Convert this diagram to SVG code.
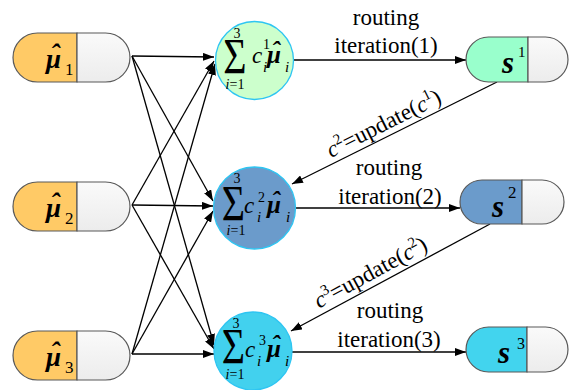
<svg xmlns="http://www.w3.org/2000/svg" width="574" height="390" viewBox="0 0 574 390">
<defs>
<linearGradient id="gw" x1="0" y1="0" x2="0" y2="1">
<stop offset="0" stop-color="#FAFAFA"/>
<stop offset="1" stop-color="#ECECEC"/>
</linearGradient>
<marker id="ah" markerUnits="userSpaceOnUse" markerWidth="11" markerHeight="8" refX="11" refY="4" orient="auto">
<path d="M0,0 L11,4 L0,8 z" fill="#000"/>
</marker>
<style>
text{font-family:'Liberation Serif','Times New Roman',serif;fill:#000}
.lb{font-size:23px}
.bi{font-weight:bold;font-style:italic}
.it{font-style:italic}
.rm{font-weight:normal;font-style:normal}
.pl{stroke:#595959;stroke-width:1.2}
.cr{stroke:#2EC5F2;stroke-width:1.3}
.cn line{stroke:#000;stroke-width:1.3;marker-end:url(#ah)}
</style>
</defs>

<g id="connectors" class="cn">
<line x1="132" y1="56" x2="214" y2="57"/>
<line x1="132" y1="56" x2="213" y2="201"/>
<line x1="132" y1="56" x2="214" y2="345"/>
<line x1="132" y1="205" x2="214" y2="61"/>
<line x1="132" y1="205" x2="213" y2="206"/>
<line x1="132" y1="205" x2="214" y2="349"/>
<line x1="132" y1="354" x2="215" y2="64"/>
<line x1="132" y1="354" x2="213" y2="211"/>
<line x1="132" y1="354" x2="214" y2="354"/>
<line x1="293" y1="60" x2="466" y2="60"/>
<line x1="296" y1="208" x2="460" y2="208"/>
<line x1="292" y1="352" x2="466" y2="352"/>
<line x1="497" y1="82" x2="292" y2="184"/>
<line x1="490" y1="224" x2="291" y2="331"/>
</g>

<g id="mu1">
<path class="pl" d="M77,33 H37.5 A24.5,24.5 0 0 0 37.5,82 H77 Z" fill="#FFCA66"/>
<path class="pl" d="M77,33 H105.5 A24.5,24.5 0 0 1 105.5,82 H77 Z" fill="url(#gw)"/>
<text class="bi" x="46" y="68" font-size="27">μ<tspan dx="-10.5" dy="-5">ˆ</tspan><tspan class="rm" x="65" y="75" font-size="17">1</tspan></text>
</g>
<g id="mu2">
<path class="pl" d="M77,182 H37.5 A24.5,24.5 0 0 0 37.5,231 H77 Z" fill="#FFCA66"/>
<path class="pl" d="M77,182 H105.5 A24.5,24.5 0 0 1 105.5,231 H77 Z" fill="url(#gw)"/>
<text class="bi" x="46" y="217" font-size="27">μ<tspan dx="-10.5" dy="-5">ˆ</tspan><tspan class="rm" x="65" y="224" font-size="17">2</tspan></text>
</g>
<g id="mu3">
<path class="pl" d="M77,331 H37.5 A24.5,24.5 0 0 0 37.5,380 H77 Z" fill="#FFCA66"/>
<path class="pl" d="M77,331 H105.5 A24.5,24.5 0 0 1 105.5,380 H77 Z" fill="url(#gw)"/>
<text class="bi" x="46" y="366" font-size="27">μ<tspan dx="-10.5" dy="-5">ˆ</tspan><tspan class="rm" x="65" y="373" font-size="17">3</tspan></text>
</g>

<g id="sum1">
<circle class="cr" cx="254.5" cy="60.5" r="39" fill="#CCFFCC"/>
<text transform="translate(235,73) scale(1,1.25)" font-size="40" text-anchor="middle">Σ</text>
<text x="237" y="38" font-size="14" text-anchor="middle">3</text>
<text x="235" y="89" font-size="14" text-anchor="middle"><tspan class="it">i</tspan>=1</text>
<text class="it" x="252" y="63" font-size="23">c<tspan class="rm" x="263" y="49" font-size="14">1</tspan><tspan x="263" y="72" font-size="15">i</tspan><tspan class="bi" x="267" y="63" font-size="25">μ</tspan><tspan class="bi" x="271.4" y="59" font-size="25">ˆ</tspan><tspan x="285" y="72" font-size="15">i</tspan></text>
</g>
<g id="sum2">
<circle class="cr" cx="254.5" cy="208" r="41" fill="#6B9BCB"/>
<text transform="translate(233.5,220) scale(1,1.25)" font-size="40" text-anchor="middle">Σ</text>
<text x="237" y="183" font-size="14" text-anchor="middle">3</text>
<text x="236" y="235" font-size="14" text-anchor="middle"><tspan class="it">i</tspan>=1</text>
<text class="it" x="244" y="213" font-size="23">c<tspan class="rm" x="258" y="202" font-size="14">2</tspan><tspan x="257" y="222" font-size="15">i</tspan><tspan class="bi" x="267" y="213" font-size="25">μ</tspan><tspan class="bi" x="271.4" y="209" font-size="25">ˆ</tspan><tspan x="286" y="222" font-size="15">i</tspan></text>
</g>
<g id="sum3">
<circle class="cr" cx="253" cy="351" r="39" fill="#42D1EE"/>
<text transform="translate(233.5,363) scale(1,1.25)" font-size="40" text-anchor="middle">Σ</text>
<text x="236" y="328" font-size="14" text-anchor="middle">3</text>
<text x="235" y="379" font-size="14" text-anchor="middle"><tspan class="it">i</tspan>=1</text>
<text class="it" x="245" y="357" font-size="23">c<tspan class="rm" x="259" y="345" font-size="14">3</tspan><tspan x="257" y="366" font-size="15">i</tspan><tspan class="bi" x="267" y="357" font-size="25">μ</tspan><tspan class="bi" x="271.4" y="353" font-size="25">ˆ</tspan><tspan x="285" y="366" font-size="15">i</tspan></text>
</g>

<g id="s1">
<path class="pl" d="M528,37 H488.5 A22.5,22.5 0 0 0 488.5,82 H528 Z" fill="#99FFCC"/>
<path class="pl" d="M528,37 H545.5 A22.5,22.5 0 0 1 545.5,82 H528 Z" fill="url(#gw)"/>
<text class="bi" x="502" y="73" font-size="31">s<tspan class="rm" x="518" y="57" font-size="15">1</tspan></text>
</g>
<g id="s2">
<path class="pl" d="M522,180 H482 A22,22 0 0 0 482,224 H522 Z" fill="#6B9BCB"/>
<path class="pl" d="M522,180 H542 A22,22 0 0 1 542,224 H522 Z" fill="url(#gw)"/>
<text class="bi" x="492" y="217" font-size="31">s<tspan class="rm" x="508" y="198" font-size="17">2</tspan></text>
</g>
<g id="s3">
<path class="pl" d="M527,327 H488.5 A22.5,22.5 0 0 0 488.5,372 H527 Z" fill="#42D4EE"/>
<path class="pl" d="M527,327 H545.5 A22.5,22.5 0 0 1 545.5,372 H527 Z" fill="url(#gw)"/>
<text class="bi" x="498" y="363" font-size="31">s<tspan class="rm" x="517" y="349" font-size="16">3</tspan></text>
</g>

<g id="labels">
<text class="lb" x="386" y="25" text-anchor="middle">routing</text>
<text class="lb" x="386" y="53" text-anchor="middle">iteration(1)</text>
<text class="lb" x="389" y="175" text-anchor="middle">routing</text>
<text class="lb" x="390" y="204" text-anchor="middle">iteration(2)</text>
<text class="lb" x="390" y="318" text-anchor="middle">routing</text>
<text class="lb" x="389" y="347" text-anchor="middle">iteration(3)</text>
<text class="lb" transform="translate(387,130) rotate(-26.6)" text-anchor="middle"><tspan class="it">c</tspan><tspan dy="-9" font-size="15">2</tspan><tspan dy="9">=update(</tspan><tspan class="it">c</tspan><tspan dy="-9" font-size="15">1</tspan><tspan dy="9">)</tspan></text>
<text class="lb" transform="translate(374,279) rotate(-28.4)" text-anchor="middle"><tspan class="it">c</tspan><tspan dy="-9" font-size="15">3</tspan><tspan dy="9">=update(</tspan><tspan class="it">c</tspan><tspan dy="-9" font-size="15">2</tspan><tspan dy="9">)</tspan></text>
</g>
</svg>
